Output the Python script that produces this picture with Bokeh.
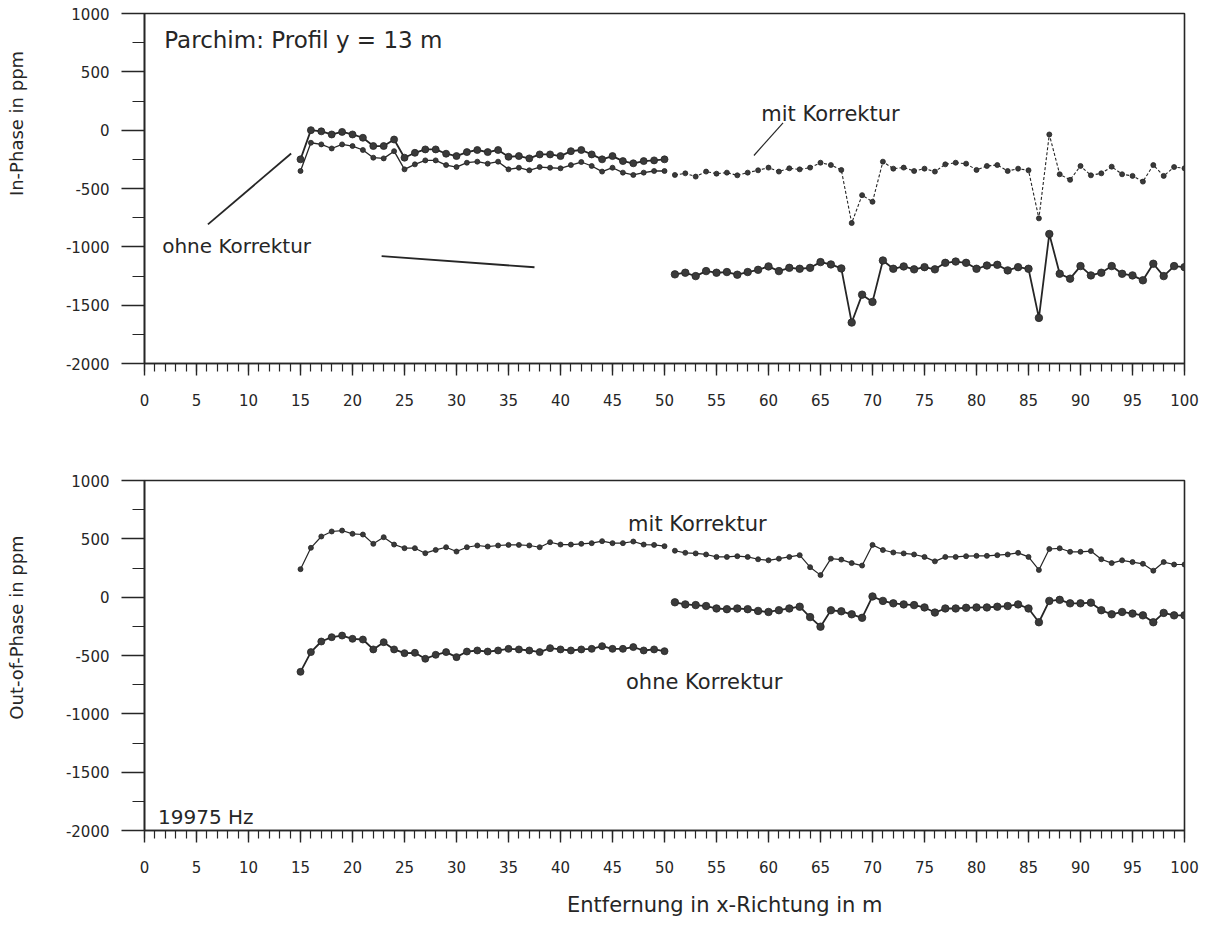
from bokeh.plotting import figure
from bokeh.layouts import column, row
from bokeh.models import Range1d, FixedTicker, Label
from bokeh.embed import file_html
from bokeh.resources import INLINE

# ---------------- data ----------------
x_left = list(range(15, 51))      # 15 .. 50
x_right = list(range(51, 101))    # 51 .. 100

# In-Phase (top panel)
ip_ohne_left = [-250, 0, -10, -37, -15, -37, -65, -136, -136, -80, -236, -194, -165, -165,
                -202, -222, -188, -170, -188, -170, -228, -222, -242, -208, -208, -222,
                -180, -170, -208, -250, -222, -265, -284, -265, -259, -250]
ip_mit_left = [-350, -108, -122, -157, -122, -136, -170, -236, -242, -180, -336, -293, -259,
               -259, -299, -316, -279, -270, -287, -270, -336, -322, -344, -316, -322, -327,
               -299, -273, -307, -355, -322, -364, -384, -364, -350, -350]
ip_mit_right = [-384, -370, -398, -355, -373, -364, -387, -364, -344, -321, -355, -327, -336,
                -321, -279, -299, -341, -796, -557, -614, -270, -330, -321, -350, -330, -355,
                -293, -279, -287, -341, -307, -299, -350, -330, -344, -756, -37, -378, -426,
                -307, -387, -370, -313, -378, -392, -441, -299, -392, -316, -327]
ip_ohne_right = [-1236, -1222, -1251, -1208, -1222, -1216, -1239, -1216, -1197, -1168, -1208,
                 -1180, -1188, -1180, -1131, -1151, -1185, -1649, -1410, -1472, -1117, -1188,
                 -1168, -1193, -1174, -1193, -1137, -1126, -1137, -1188, -1160, -1154, -1202,
                 -1174, -1188, -1609, -890, -1231, -1273, -1165, -1245, -1222, -1165, -1231,
                 -1245, -1287, -1145, -1251, -1165, -1174]

# Out-of-Phase (bottom panel)
oop_mit_left = [240, 423, 520, 563, 571, 543, 537, 457, 514, 451, 420, 420, 377, 405, 428,
                391, 428, 443, 434, 443, 448, 448, 443, 428, 471, 451, 451, 457, 463, 480,
                463, 463, 477, 451, 448, 437]
oop_ohne_left = [-640, -471, -380, -343, -329, -357, -363, -448, -386, -448, -480, -477, -528,
                 -494, -471, -514, -466, -457, -466, -457, -443, -448, -457, -471, -437, -448,
                 -457, -448, -443, -420, -443, -443, -428, -457, -448, -463]
oop_mit_right = [398, 380, 375, 366, 345, 345, 351, 345, 325, 316, 330, 345, 360, 257, 189,
                 330, 322, 292, 271, 448, 404, 383, 375, 366, 345, 307, 345, 345, 351, 354,
                 354, 360, 366, 380, 345, 233, 413, 419, 389, 389, 395, 325, 292, 316, 301,
                 286, 227, 301, 280, 280]
oop_ohne_right = [-44, -62, -68, -76, -97, -103, -97, -103, -118, -127, -112, -97, -82, -171,
                  -253, -112, -121, -147, -177, 6, -32, -53, -62, -68, -88, -132, -97, -97,
                  -91, -88, -88, -82, -76, -62, -97, -215, -32, -23, -53, -53, -47, -112,
                  -147, -127, -141, -156, -215, -135, -156, -156]

x_ticks = list(range(0, 101, 5))
x_minor = list(range(0, 101, 1))
y_ticks = [1000, 500, 0, -500, -1000, -1500, -2000]
y_minor = list(range(-2000, 1001, 250))
y_tick_labels = {v: str(v) for v in y_ticks}

FONT = "DejaVu Sans"
INK = "#262626"
DOT = "#3a3a3a"
LEFT_W = 44      # width of the strip that holds the y-axis titles
MAIN_W = 1156


def make_fig(height, border_top, border_bottom):
    p = figure(width=MAIN_W, height=height, output_backend="svg", toolbar_location=None,
               x_range=Range1d(0, 100), y_range=Range1d(-2000, 1000),
               min_border_left=100, min_border_right=16,
               min_border_top=border_top, min_border_bottom=border_bottom)
    p.grid.visible = False
    p.outline_line_color = INK
    p.outline_line_width = 1.6
    p.background_fill_color = "white"
    p.border_fill_color = "white"

    p.xaxis.ticker = FixedTicker(ticks=x_ticks, minor_ticks=x_minor)
    p.yaxis.ticker = FixedTicker(ticks=y_ticks, minor_ticks=y_minor)
    p.yaxis.major_label_overrides = y_tick_labels
    for ax in (p.xaxis[0], p.yaxis[0]):
        ax.axis_line_color = INK
        ax.axis_line_width = 1.6
        ax.major_tick_line_color = INK
        ax.minor_tick_line_color = INK
        ax.major_tick_line_width = 1.4
        ax.minor_tick_line_width = 1.2
        ax.major_tick_in = 0
        ax.minor_tick_in = 0
        ax.major_label_text_font = FONT
        ax.major_label_text_font_size = "15px"
        ax.major_label_text_color = INK
    p.yaxis.major_tick_out = 23
    p.yaxis.minor_tick_out = 12
    p.yaxis.major_label_standoff = 12
    p.xaxis.major_tick_out = 12
    p.xaxis.minor_tick_out = 8
    p.xaxis.major_label_standoff = 18
    return p


def blank_fig(width, height):
    p = figure(width=width, height=height, output_backend="svg", toolbar_location=None,
               x_range=Range1d(0, width), y_range=Range1d(0, height),
               x_axis_type=None, y_axis_type=None, min_border=0)
    p.grid.visible = False
    p.outline_line_color = None
    p.background_fill_color = "white"
    p.border_fill_color = "white"
    return p


def series(p, xs, ys, size, lw, dash="solid"):
    p.line(xs, ys, line_color=INK, line_width=lw, line_dash=dash)
    p.scatter(xs, ys, marker="circle", size=size, fill_color=DOT, line_color=INK,
              line_width=0.8)


def text(p, x, y, s, size, baseline="middle", align="left", angle=0):
    p.add_layout(Label(x=x, y=y, text=s, text_font=FONT, text_font_size=size,
                       text_color=INK, text_baseline=baseline, text_align=align,
                       angle=angle, angle_units="deg"))


# ---------------- top panel ----------------
top = make_fig(423, 13, 60)
series(top, x_left, ip_mit_left, 5, 1.3)
series(top, x_left, ip_ohne_left, 7, 1.8)
series(top, x_right, ip_mit_right, 5, 1.1, "3 2")
series(top, x_right, ip_ohne_right, 7.5, 1.8)

text(top, 1.9, 775, "Parchim: Profil y = 13 m", "23px")
text(top, 59.3, 135, "mit Korrektur", "21px", "alphabetic")
text(top, 1.7, -990, "ohne Korrektur", "20px")
top.line([61.4, 58.6], [63, -217], line_color=INK, line_width=1.2)
top.line([6.1, 14.1], [-808, -200], line_color=INK, line_width=1.8)
top.line([22.8, 37.5], [-1080, -1175], line_color=INK, line_width=1.8)

# ---------------- bottom panel ----------------
bot = make_fig(457, 57, 50)
series(bot, x_left, oop_mit_left, 5, 1.2)
series(bot, x_left, oop_ohne_left, 7, 1.8)
series(bot, x_right, oop_mit_right, 5, 1.2)
series(bot, x_right, oop_ohne_right, 7.5, 1.8)

text(bot, 46.5, 630, "mit Korrektur", "21px", "alphabetic")
text(bot, 46.3, -730, "ohne Korrektur", "21px", "alphabetic")
text(bot, 1.3, -1880, "19975 Hz", "20px", "alphabetic")

# ---------------- axis titles ----------------
xlab = blank_fig(MAIN_W, 45)
text(xlab, 645, 21, "Entfernung in x-Richtung in m", "21px", "middle", "center")

ylab_top = blank_fig(LEFT_W, 423)
text(ylab_top, 16, 300, "In-Phase in ppm", "18px", "middle", "center", 90)
ylab_bot = blank_fig(LEFT_W, 502)
text(ylab_bot, 16, 298, "Out-of-Phase in ppm", "18px", "middle", "center", 90)

layout = row(column(ylab_top, ylab_bot, spacing=0), column(top, bot, xlab, spacing=0),
             spacing=0)
open("out.html", "w").write(file_html(layout, INLINE))
